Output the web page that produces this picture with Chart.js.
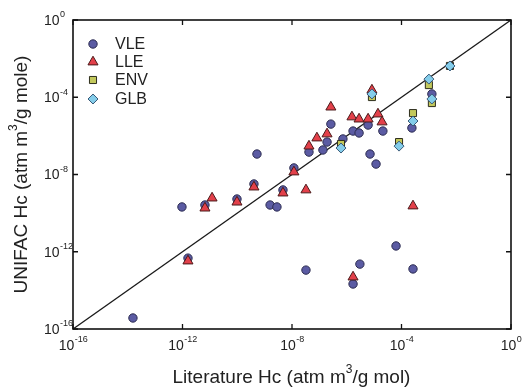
<!DOCTYPE html>
<html>
<head>
<meta charset="utf-8">
<script src="https://cdn.jsdelivr.net/npm/chart.js@4"></script>
<style>
  html, body { margin: 0; padding: 0; background: #fff; }
</style>
</head>
<body>
<canvas id="myChart" width="529" height="388"></canvas>
<script>
// valeurs, en log10 (atm m3/g mol)
const vleLit   = [-13.81, -12.02, -11.18, -10.01, -9.39, -11.80, -8.80, -8.55, -8.33, -7.93, -9.28, -7.38, -6.87, -6.72, -6.58, -6.14, -5.77, -5.55, -5.22, -5.15, -4.93, -4.68, -3.62, -2.89, -7.49, -5.52, -5.77, -4.20, -3.58];
const vleUnifac = [-15.43, -9.68, -9.58, -9.27, -8.49, -12.33, -9.58, -9.68, -8.80, -7.66, -6.94, -6.84, -6.73, -6.32, -5.39, -6.16, -5.75, -5.85, -5.44, -6.94, -7.46, -5.75, -5.59, -3.83, -12.95, -12.64, -13.67, -11.70, -12.89];

const lleLit   = [-11.80, -11.18, -10.92, -10.01, -9.39, -8.33, -7.93, -7.49, -7.38, -7.09, -6.72, -6.58, -5.81, -5.55, -5.22, -4.86, -4.71, -5.08, -3.58, -5.77];
const lleUnifac = [-12.48, -9.74, -9.22, -9.43, -8.65, -8.96, -7.87, -8.80, -6.53, -6.11, -5.90, -4.51, -5.02, -5.13, -5.13, -4.87, -5.28, -3.63, -9.63, -13.31];

const envLit   = [-6.21, -5.08, -4.09, -3.58, -3.00, -2.89, -2.23];
const envUnifac = [-6.42, -3.99, -6.32, -4.82, -3.37, -4.30, -2.38];

const glbLit   = [-6.21, -5.08, -4.09, -3.58, -3.00, -2.89, -2.23];
const glbUnifac = [-6.63, -3.83, -6.53, -5.23, -3.06, -4.09, -2.38];

const seriesNames = ['VLE', 'LLE', 'ENV', 'GLB'];
const tickExps = [-16, -12, -8, -4, 0];
const axisMin = 1e-16;
const axisMax = 1;

const xTitle = ['Literature Hc (atm m', '3', '/g mol)'];
const yTitle = ['UNIFAC Hc (atm m', '3', '/g mole)'];

const FONT = '"Liberation Sans", Arial, sans-serif';
const TXT = '#222';

function toPoints(xs, ys) {
    return xs.map((v, i) => ({ x: Math.pow(10, v), y: Math.pow(10, ys[i]) }));
}

// styles des marqueurs
const styles = {
    VLE: { pointStyle: 'circle',   radius: 4.2, bg: '#5b5ba3', border: '#2b2b4f' },
    LLE: { pointStyle: 'triangle', radius: 5.8, bg: '#e3404a', border: '#4a1a1a' },
    ENV: { pointStyle: 'rect',     radius: 5.0, bg: '#c2c85c', border: '#2e2e1e' },
    GLB: { pointStyle: 'rectRot',  radius: 5.0, bg: '#84cdea', border: '#3a5a78' }
};

function makeDataset(name, xs, ys, order) {
    const s = styles[name];
    return {
        label: name,
        data: toPoints(xs, ys),
        pointStyle: s.pointStyle,
        pointRadius: s.radius,
        pointBackgroundColor: s.bg,
        pointBorderColor: s.border,
        pointBorderWidth: 1,
        order: order
    };
}

// texte avec exposant : [avant, exposant, après]
function drawSupText(ctx, parts, size, x, y) {
    const supSize = Math.round(size * 0.62);
    ctx.font = size + 'px ' + FONT;
    const w0 = ctx.measureText(parts[0]).width;
    const w2 = ctx.measureText(parts[2]).width;
    ctx.font = supSize + 'px ' + FONT;
    const w1 = ctx.measureText(parts[1]).width;
    const total = w0 + w1 + w2;
    let cx = x - total / 2;
    ctx.textAlign = 'left';
    ctx.textBaseline = 'middle';
    ctx.font = size + 'px ' + FONT;
    ctx.fillText(parts[0], cx, y);
    ctx.font = supSize + 'px ' + FONT;
    ctx.fillText(parts[1], cx + w0, y - size * 0.42);
    ctx.font = size + 'px ' + FONT;
    ctx.fillText(parts[2], cx + w0 + w1, y);
}

function drawPow(ctx, exp, x, y, align) {
    ctx.font = '14px ' + FONT;
    const w1 = ctx.measureText('10').width;
    ctx.font = '9px ' + FONT;
    const w2 = ctx.measureText(String(exp)).width;
    const x0 = align === 'center' ? x - (w1 + w2) / 2 : x;
    ctx.textAlign = 'left';
    ctx.textBaseline = 'middle';
    ctx.font = '14px ' + FONT;
    ctx.fillText('10', x0, y);
    ctx.font = '9px ' + FONT;
    ctx.fillText(String(exp), x0 + w1 + 0.5, y - 6);
}

function drawMarker(ctx, name, x, y) {
    const s = styles[name];
    ctx.save();
    ctx.fillStyle = s.bg;
    ctx.strokeStyle = s.border;
    ctx.lineWidth = 1;
    ctx.beginPath();
    const r = s.radius;
    if (s.pointStyle === 'circle') {
        ctx.arc(x, y, r, 0, Math.PI * 2);
    } else if (s.pointStyle === 'triangle') {
        ctx.moveTo(x, y - r);
        ctx.lineTo(x + r * Math.sin(Math.PI * 2 / 3), y - r * Math.cos(Math.PI * 2 / 3));
        ctx.lineTo(x - r * Math.sin(Math.PI * 2 / 3), y - r * Math.cos(Math.PI * 2 / 3));
        ctx.closePath();
    } else if (s.pointStyle === 'rect') {
        const h = r * Math.SQRT1_2;
        ctx.rect(x - h, y - h, 2 * h, 2 * h);
    } else {
        ctx.moveTo(x, y - r);
        ctx.lineTo(x + r, y);
        ctx.lineTo(x, y + r);
        ctx.lineTo(x - r, y);
        ctx.closePath();
    }
    ctx.fill();
    ctx.stroke();
    ctx.restore();
}

const framePlugin = {
    id: 'frame',
    afterDatasetsDraw(chart) {
        const ctx = chart.ctx;
        const a = chart.chartArea;
        const xs = chart.scales.x, ys = chart.scales.y;
        ctx.save();

        // cadre
        ctx.strokeStyle = '#111';
        ctx.lineWidth = 1.6;
        ctx.strokeRect(a.left, a.top, a.right - a.left, a.bottom - a.top);

        // graduations vers l'intérieur
        ctx.lineWidth = 1.3;
        tickExps.forEach(e => {
            const px = xs.getPixelForValue(Math.pow(10, e));
            const py = ys.getPixelForValue(Math.pow(10, e));
            ctx.beginPath();
            ctx.moveTo(px, a.bottom); ctx.lineTo(px, a.bottom - 5);
            ctx.moveTo(px, a.top); ctx.lineTo(px, a.top + 5);
            ctx.moveTo(a.left, py); ctx.lineTo(a.left + 5, py);
            ctx.moveTo(a.right, py); ctx.lineTo(a.right - 5, py);
            ctx.stroke();
        });

        ctx.fillStyle = TXT;
        // étiquettes axe x
        tickExps.forEach(e => {
            drawPow(ctx, e, xs.getPixelForValue(Math.pow(10, e)), a.bottom + 17, 'center');
        });
        // étiquettes axe y (coupées par le cadre comme sur l'original)
        ctx.save();
        ctx.beginPath();
        ctx.rect(0, 0, a.left - 1, chart.height);
        ctx.clip();
        tickExps.forEach(e => {
            drawPow(ctx, e, 44, ys.getPixelForValue(Math.pow(10, e)) + 1, 'left');
        });
        ctx.restore();

        // titres des axes
        drawSupText(ctx, xTitle, 19, (a.left + a.right) / 2 - 0.5, 378);
        ctx.save();
        ctx.translate(22, (a.top + a.bottom) / 2);
        ctx.rotate(-Math.PI / 2);
        drawSupText(ctx, yTitle, 19, 0, 0);
        ctx.restore();

        // légende
        const rows = [44, 62, 80, 99];
        seriesNames.forEach((n, i) => {
            drawMarker(ctx, n, 93, rows[i]);
            ctx.fillStyle = TXT;
            ctx.font = '16px ' + FONT;
            ctx.textAlign = 'left';
            ctx.textBaseline = 'middle';
            ctx.fillText(n, 115, rows[i] + 1);
        });

        ctx.restore();
    }
};

var ctx1 = document.getElementById('myChart').getContext('2d');
var myChart = new Chart(ctx1, {
    type: 'scatter',
    data: {
        datasets: [
            makeDataset('GLB', glbLit, glbUnifac, 1),
            makeDataset('ENV', envLit, envUnifac, 2),
            makeDataset('LLE', lleLit, lleUnifac, 3),
            makeDataset('VLE', vleLit, vleUnifac, 4),
            {
                label: '1:1',
                data: [{ x: axisMin, y: axisMin }, { x: axisMax, y: axisMax }],
                showLine: true,
                pointRadius: 0,
                borderColor: '#1a1a1a',
                borderWidth: 1.3,
                order: 5
            }
        ]
    },
    options: {
        responsive: false,
        animation: false,
        layout: { padding: { left: 73, right: 18, top: 20, bottom: 59 } },
        plugins: { legend: { display: false }, tooltip: { enabled: false } },
        scales: {
            x: { type: 'logarithmic', min: axisMin, max: axisMax, display: false },
            y: { type: 'logarithmic', min: axisMin, max: axisMax, display: false }
        }
    },
    plugins: [framePlugin]
});
</script>
</body>
</html>
